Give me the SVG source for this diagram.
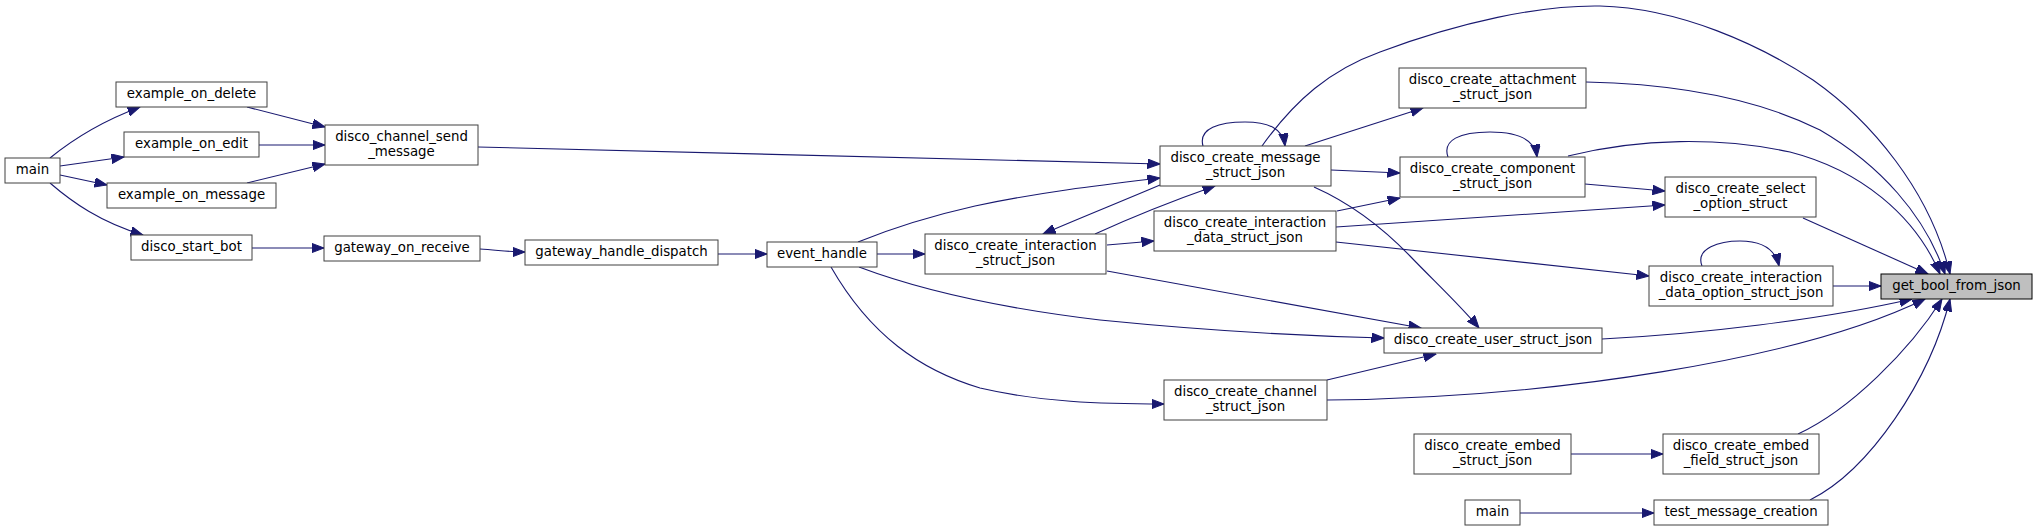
<svg xmlns="http://www.w3.org/2000/svg" width="2037" height="532" viewBox="0 0 2037 532">
<style>
.n rect{fill:#ffffff;stroke:#404040;stroke-width:1}
.n text{font-family:"DejaVu Sans",sans-serif;font-size:13.33px;text-anchor:middle;fill:#000}
#get_bool rect{fill:#bfbfbf;stroke:#000}
.e path{fill:none;stroke:#191970;stroke-width:1.1;marker-end:url(#a)}
</style>
<defs>
<marker id="a" markerWidth="13" markerHeight="10" refX="12.5" refY="4.75" orient="auto" markerUnits="userSpaceOnUse"><path d="M0,0 L12.5,4.75 L0,9.5 z" fill="#191970" stroke="#191970" stroke-width="1"/></marker>
</defs>
<rect width="2037" height="532" fill="#ffffff"/>
<g class="e" id="edges">
<path d="M50,158 C72,140 100,122 140,107"/>
<path d="M60,166 L124,157"/>
<path d="M60,175 L107,185"/>
<path d="M50,183 C72,202 100,222 143,235"/>
<path d="M247,107 L325,127"/>
<path d="M259,145 L325,145"/>
<path d="M247,183 L325,164"/>
<path d="M252,248 L324,248"/>
<path d="M480,249 C497,250 510,252 525,252"/>
<path d="M718,254 L767,254"/>
<path d="M877,254 L925,254"/>
<path d="M858,242 C895,227 935,215 975,206 C1040,192 1110,184 1160,178"/>
<path d="M859,267 C920,290 1000,308 1100,320 C1200,330 1300,336 1384,338"/>
<path d="M831,267 C870,335 920,370 980,388 C1040,402 1100,404 1164,404"/>
<path d="M478,147 L1160,164"/>
<path d="M1160,185 C1120,202 1080,218 1043,234"/>
<path d="M1095,234 C1130,218 1175,200 1215,186"/>
<path d="M1203,146 C1198,128 1220,122 1245,122 C1268,122 1283,128 1285,146"/>
<path d="M1305,146 L1423,108"/>
<path d="M1331,170 L1400,173"/>
<path d="M1262,146 C1295,100 1330,70 1380,52 C1460,22 1540,5 1600,6 C1680,8 1760,45 1813,80 C1870,120 1930,190 1950,274"/>
<path d="M1107,245 L1154,241"/>
<path d="M1107,271 L1421,328"/>
<path d="M1314,187 C1350,203 1380,225 1410,256 C1435,282 1460,305 1479,328"/>
<path d="M1337,211 L1400,198"/>
<path d="M1448,157 C1442,140 1460,132 1490,132 C1520,132 1535,140 1537,157"/>
<path d="M1585,184 L1665,191"/>
<path d="M1336,227 L1665,205"/>
<path d="M1336,242 L1649,276"/>
<path d="M1803,218 L1928,274"/>
<path d="M1702,266 C1695,248 1720,241 1740,241 C1760,241 1775,248 1779,266"/>
<path d="M1833,286 L1881,286"/>
<path d="M1586,82 C1680,84 1760,100 1820,130 C1880,165 1925,215 1945,274"/>
<path d="M1568,156 C1640,138 1720,137 1790,152 C1860,170 1915,215 1940,274"/>
<path d="M1602,339 C1700,334 1820,320 1912,299"/>
<path d="M1327,400 C1550,398 1800,360 1925,299"/>
<path d="M1327,380 L1436,354"/>
<path d="M1571,454 L1663,454"/>
<path d="M1798,434 C1850,410 1910,350 1942,299"/>
<path d="M1520,513 L1654,513"/>
<path d="M1810,500 C1870,470 1930,380 1950,299"/>
</g>
<g class="n" id="main1"><rect x="5" y="158" width="55" height="25"/><text x="32.5" y="174">main</text></g>
<g class="n" id="example_on_delete"><rect x="116" y="82" width="151" height="25"/><text x="191.5" y="98">example_on_delete</text></g>
<g class="n" id="example_on_edit"><rect x="124" y="132" width="135" height="25"/><text x="191.5" y="148">example_on_edit</text></g>
<g class="n" id="example_on_message"><rect x="107" y="183" width="169" height="25"/><text x="191.5" y="199">example_on_message</text></g>
<g class="n" id="disco_channel_send_message"><rect x="325" y="125" width="153" height="40"/><text x="401.5" y="140.5">disco_channel_send</text><text x="401.5" y="155.5">_message</text></g>
<g class="n" id="disco_start_bot"><rect x="131" y="235" width="121" height="25"/><text x="191.5" y="251">disco_start_bot</text></g>
<g class="n" id="gateway_on_receive"><rect x="324" y="236" width="156" height="25"/><text x="402" y="252">gateway_on_receive</text></g>
<g class="n" id="gateway_handle_dispatch"><rect x="525" y="240" width="193" height="25"/><text x="621.5" y="256">gateway_handle_dispatch</text></g>
<g class="n" id="event_handle"><rect x="767" y="242" width="110" height="25"/><text x="822" y="258">event_handle</text></g>
<g class="n" id="interaction_struct"><rect x="925" y="234" width="181" height="40"/><text x="1015.5" y="249.5">disco_create_interaction</text><text x="1015.5" y="264.5">_struct_json</text></g>
<g class="n" id="message_struct"><rect x="1160" y="146" width="171" height="40"/><text x="1245.5" y="161.5">disco_create_message</text><text x="1245.5" y="176.5">_struct_json</text></g>
<g class="n" id="interaction_data"><rect x="1154" y="211" width="182" height="40"/><text x="1245" y="226.5">disco_create_interaction</text><text x="1245" y="241.5">_data_struct_json</text></g>
<g class="n" id="channel_struct"><rect x="1164" y="380" width="163" height="40"/><text x="1245.5" y="395.5">disco_create_channel</text><text x="1245.5" y="410.5">_struct_json</text></g>
<g class="n" id="attachment"><rect x="1399" y="68" width="187" height="40"/><text x="1492.5" y="83.5">disco_create_attachment</text><text x="1492.5" y="98.5">_struct_json</text></g>
<g class="n" id="component"><rect x="1400" y="157" width="185" height="40"/><text x="1492.5" y="172.5">disco_create_component</text><text x="1492.5" y="187.5">_struct_json</text></g>
<g class="n" id="user_struct"><rect x="1384" y="328" width="218" height="25"/><text x="1493" y="344">disco_create_user_struct_json</text></g>
<g class="n" id="embed_struct"><rect x="1414" y="434" width="157" height="40"/><text x="1492.5" y="449.5">disco_create_embed</text><text x="1492.5" y="464.5">_struct_json</text></g>
<g class="n" id="main2"><rect x="1465" y="500" width="55" height="25"/><text x="1492.5" y="516">main</text></g>
<g class="n" id="select_option"><rect x="1665" y="177" width="151" height="40"/><text x="1740.5" y="192.5">disco_create_select</text><text x="1740.5" y="207.5">_option_struct</text></g>
<g class="n" id="interaction_data_option"><rect x="1649" y="266" width="184" height="40"/><text x="1741" y="281.5">disco_create_interaction</text><text x="1741" y="296.5">_data_option_struct_json</text></g>
<g class="n" id="embed_field"><rect x="1663" y="434" width="156" height="40"/><text x="1741" y="449.5">disco_create_embed</text><text x="1741" y="464.5">_field_struct_json</text></g>
<g class="n" id="test_message_creation"><rect x="1654" y="500" width="174" height="25"/><text x="1741" y="516">test_message_creation</text></g>
<g class="n" id="get_bool"><rect x="1881" y="274" width="151" height="25"/><text x="1956.5" y="290">get_bool_from_json</text></g>
</svg>
